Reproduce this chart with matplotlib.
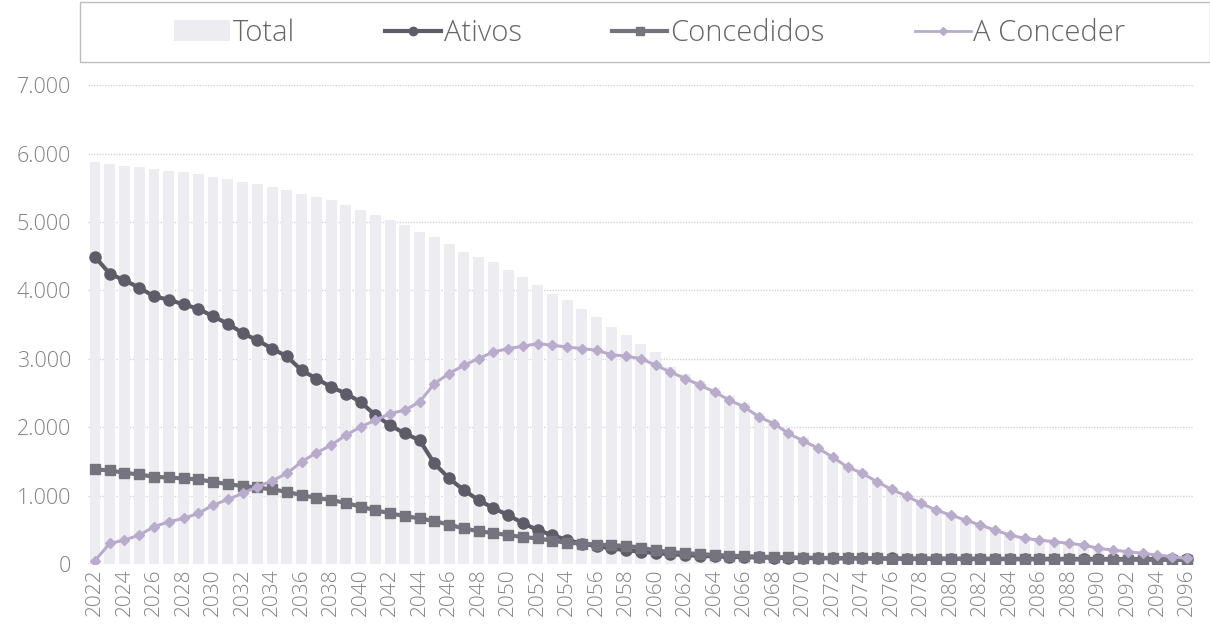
import matplotlib
matplotlib.use("Agg")
import matplotlib.pyplot as plt
from matplotlib.patches import Rectangle, Patch
from matplotlib.lines import Line2D
from matplotlib.ticker import FuncFormatter

years = list(range(2022, 2097))

total = [5873, 5849, 5825, 5800, 5776, 5752, 5727, 5703, 5664, 5630,
         5581, 5557, 5508, 5460, 5411, 5362, 5314, 5241, 5168, 5095,
         5022, 4949, 4851, 4778, 4682, 4559, 4486, 4413, 4292, 4194,
         4073, 3951, 3854, 3732, 3610, 3464, 3343, 3222, 3099, 2880,
         2780, 2680, 2580, 2460, 2360, 2210, 2110, 1960, 1850, 1740,
         1610, 1460, 1370, 1240, 1125, 1025, 915, 815, 740, 665,
         590, 515, 440, 390, 365, 340, 315, 290, 240, 215,
         190, 165, 140, 115, 90]

ativos = [4490, 4244, 4146, 4040, 3912, 3864, 3795, 3732, 3620, 3514,
          3377, 3270, 3149, 3036, 2832, 2711, 2588, 2492, 2369, 2175,
          2029, 1908, 1810, 1470, 1251, 1080, 934, 818, 715, 598,
          496, 423, 350, 300, 260, 230, 200, 180, 160, 145,
          130, 120, 112, 105, 100, 96, 93, 90, 88, 86,
          85, 84, 83, 82, 81, 80, 80, 79, 79, 78,
          78, 77, 77, 76, 76, 75, 75, 74, 74, 73,
          73, 72, 72, 71, 70]

concedidos = [1382, 1370, 1333, 1309, 1275, 1265, 1251, 1236, 1202, 1168,
              1139, 1119, 1090, 1056, 1007, 968, 934, 895, 837, 788,
              740, 701, 667, 628, 575, 520, 480, 452, 423, 394,
              375, 340, 310, 300, 285, 275, 265, 240, 200, 175,
              160, 145, 132, 122, 115, 108, 102, 97, 93, 90,
              87, 85, 83, 81, 80, 78, 77, 76, 75, 74,
              73, 72, 71, 70, 69, 68, 67, 66, 65, 64,
              63, 62, 61, 60, 60]

a_conceder = [50, 302, 350, 423, 545, 618, 667, 740, 861, 944,
              1032, 1128, 1216, 1324, 1494, 1625, 1737, 1883, 2004, 2102,
              2200, 2248, 2369, 2638, 2784, 2905, 3003, 3099, 3149, 3182,
              3222, 3197, 3172, 3149, 3124, 3061, 3036, 3003, 2905, 2807,
              2711, 2613, 2515, 2394, 2296, 2150, 2054, 1908, 1800, 1693,
              1562, 1416, 1328, 1202, 1090, 993, 886, 788, 715, 642,
              569, 496, 423, 375, 350, 326, 302, 277, 229, 204,
              180, 156, 131, 107, 83]

bar_color = "#ededf1"
ativos_color = "#5d5c68"
conc_color = "#74737e"
acon_color = "#b9abcc"
text_color = "#828282"
font = "Open Sans"

fig = plt.figure(figsize=(12.1, 6.26), dpi=100)
ax = fig.add_axes([0.0724, 0.099, 0.9146, 0.765])

ax.bar(years, total, width=0.74, color=bar_color, zorder=1)
ax.plot(years, ativos, color=ativos_color, lw=3, marker="o", ms=8, zorder=3)
ax.plot(years, concedidos, color=conc_color, lw=3, marker="s", ms=7.5, zorder=3)
ax.plot(years, a_conceder, color=acon_color, lw=2.2, marker="D", ms=5.5, zorder=4)

ax.set_xlim(2021.5, 2096.5)
ax.set_ylim(0, 7000)
ax.set_yticks(range(0, 7001, 1000))
ax.yaxis.set_major_formatter(FuncFormatter(lambda v, p: f"{int(v):,}".replace(",", ".")))
ax.set_xticks(years[::2])
ax.set_xticklabels([str(y) for y in years[::2]], rotation=90)
ax.grid(axis="y", color="#d3d3d3", lw=1, ls=(0, (1, 1)), zorder=0)
ax.set_axisbelow(True)
for s in ax.spines.values():
    s.set_visible(False)
ax.tick_params(length=0, colors=text_color)
ax.tick_params(axis="y", labelsize=15.5, pad=12)
ax.tick_params(axis="x", labelsize=15, pad=3)
for lab in ax.get_xticklabels() + ax.get_yticklabels():
    lab.set_fontfamily(font)
    lab.set_fontweight("light")

# legend box across the top
fig.patches.append(Rectangle((80 / 1210, 1 - 62 / 626), 1130 / 1210, 60 / 626,
                             transform=fig.transFigure, fill=False,
                             edgecolor="#bdbdbd", lw=1))
handles = [
    Patch(facecolor=bar_color),
    Line2D([], [], color=ativos_color, lw=3, marker="o", ms=6),
    Line2D([], [], color=conc_color, lw=3, marker="s", ms=6),
    Line2D([], [], color=acon_color, lw=2, marker="D", ms=4),
]
labels = ["Total", "Ativos", "Concedidos", "A Conceder"]
leg = fig.legend(handles, labels, loc="center", bbox_to_anchor=(650 / 1210, 1 - 33 / 626),
                 ncol=4, frameon=False, handlelength=1.9, handletextpad=0.1,
                 columnspacing=3.1, prop={"family": font, "weight": "light", "size": 21})
for t in leg.get_texts():
    t.set_color("#666666")

fig.savefig("out.png", dpi=100)
